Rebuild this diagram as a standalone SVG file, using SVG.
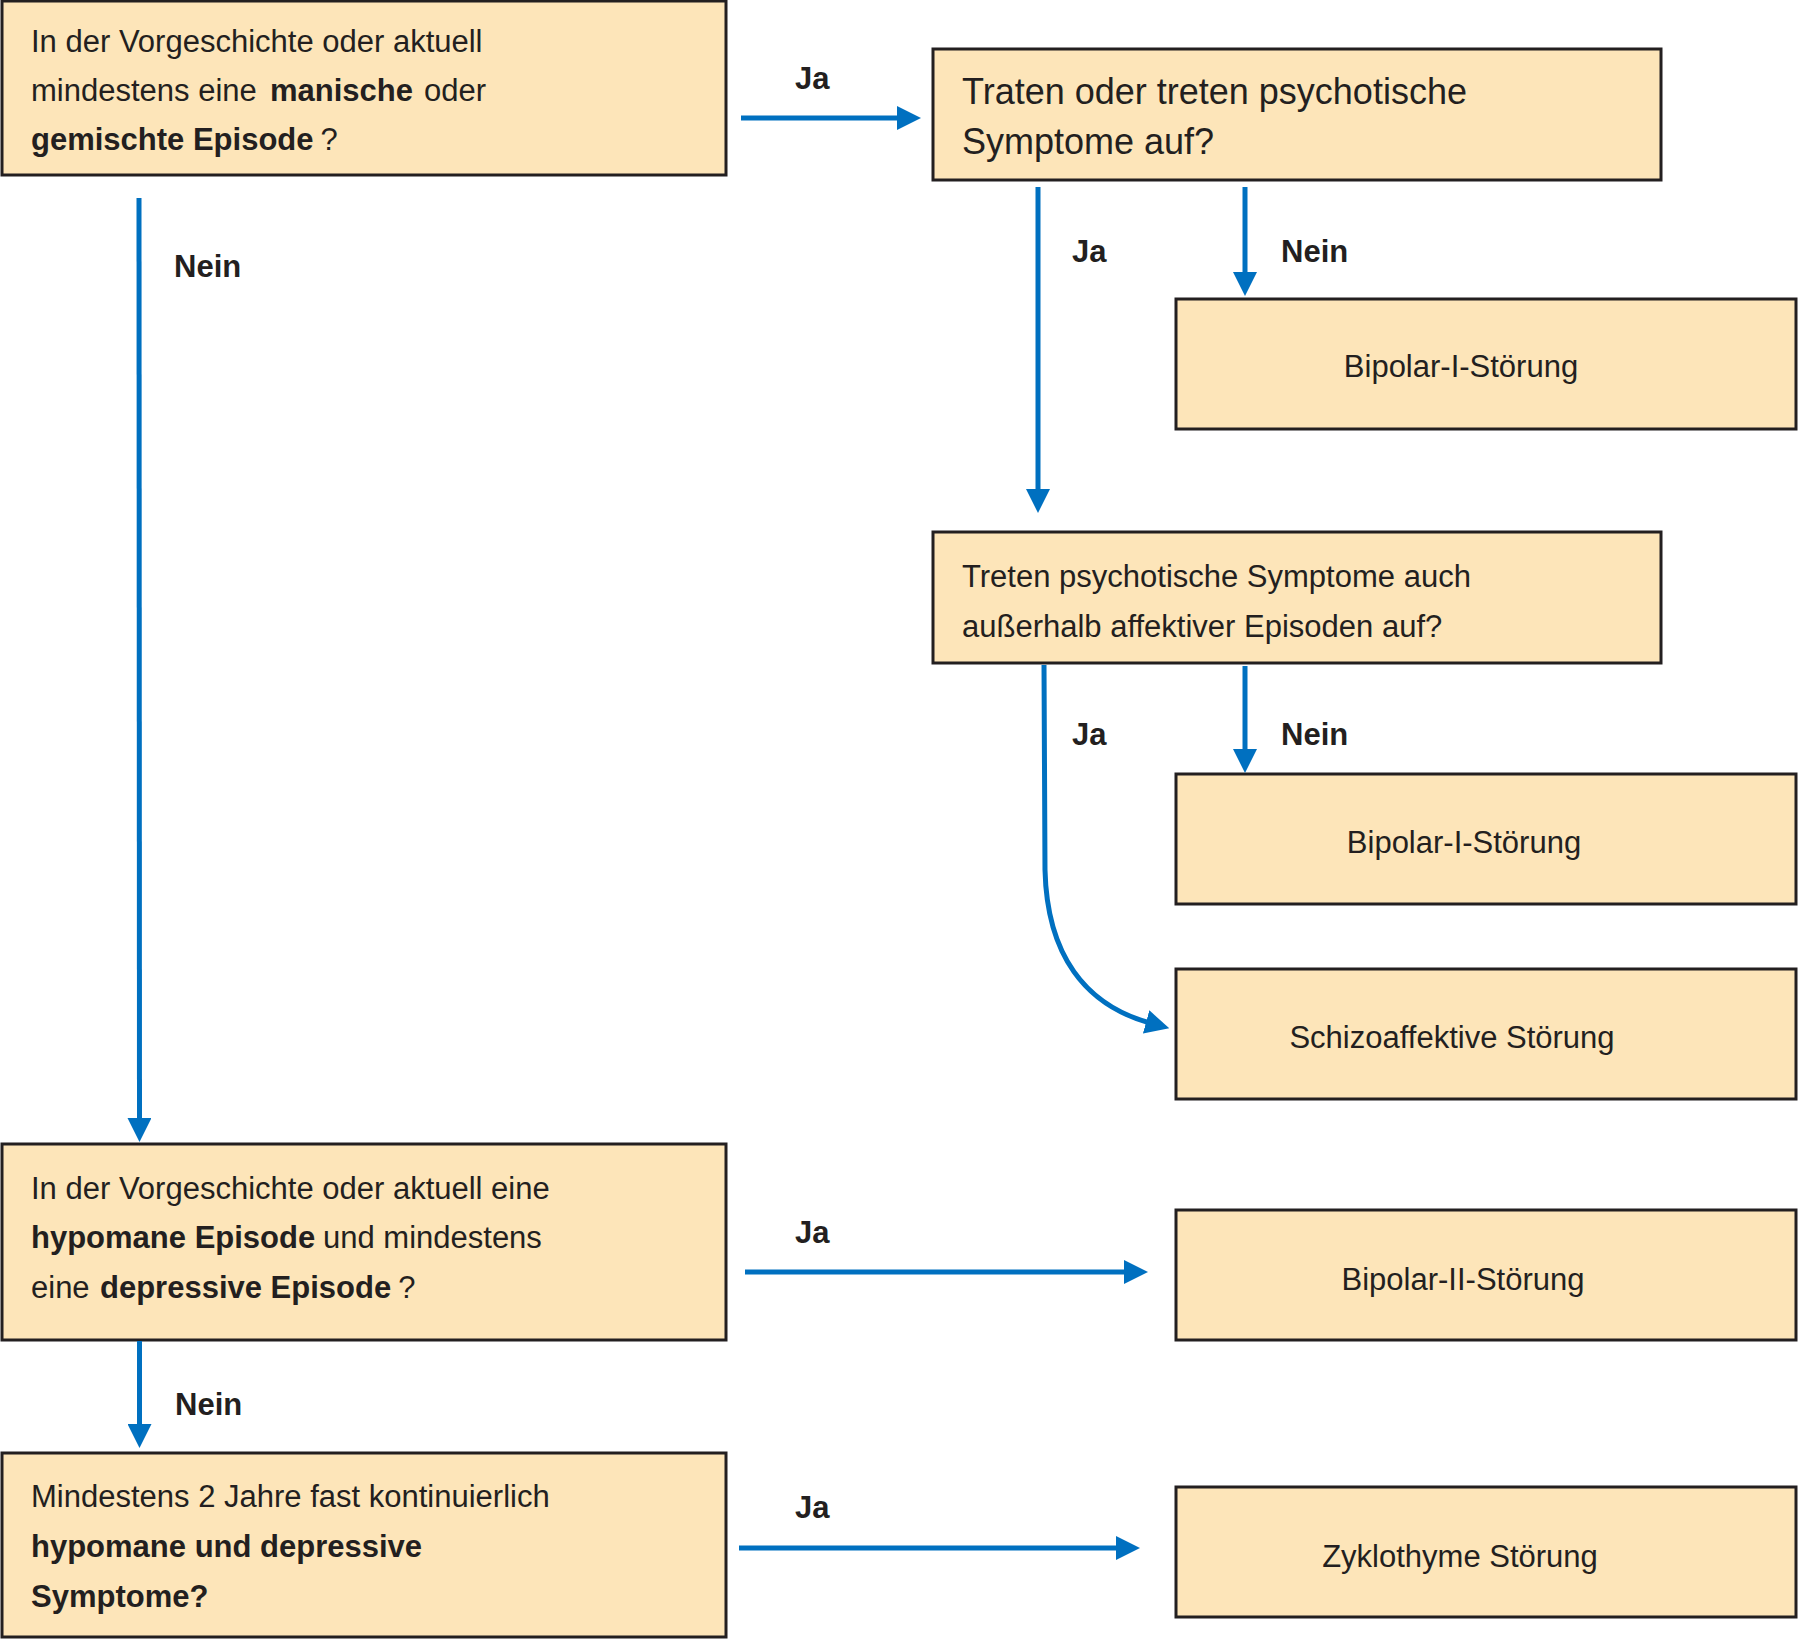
<svg xmlns="http://www.w3.org/2000/svg" width="1798" height="1639" viewBox="0 0 1798 1639">
<style>
.box{fill:#fde5b9;stroke:#231f20;stroke-width:3}
text{font-family:"Liberation Sans",Arial,sans-serif;fill:#231f20;font-size:31px}
.b{font-weight:bold}
.big{font-size:36px}
.lbl{font-weight:bold;font-size:31px}
.c{text-anchor:middle}
.con{fill:none;stroke:#0070c0;stroke-width:5;marker-end:url(#ah)}
</style>
<defs>
<marker id="ah" viewBox="0 0 24 24" refX="4" refY="12" markerWidth="24" markerHeight="24" markerUnits="userSpaceOnUse" orient="auto">
<path d="M0,0 L24,12 L0,24 z" fill="#0070c0"/>
</marker>
</defs>
<rect width="1798" height="1639" fill="#fff"/>
<g id="n1">
<rect class="box" x="2" y="1" width="724" height="174"/>
<text x="31" y="52">In der Vorgeschichte oder aktuell</text>
<text y="101"><tspan x="31">mindestens eine</tspan><tspan class="b" x="270">manische</tspan><tspan x="424">oder</tspan></text>
<text y="150"><tspan class="b" x="31">gemischte Episode</tspan><tspan dx="7">?</tspan></text>
</g>
<g id="n2">
<rect class="box" x="933" y="49" width="728" height="131"/>
<text class="big" x="962" y="104">Traten oder treten psychotische</text>
<text class="big" x="962" y="154">Symptome auf?</text>
</g>
<g id="n3">
<rect class="box" x="1176" y="299" width="620" height="130"/>
<text class="c" x="1461" y="377">Bipolar-I-Störung</text>
</g>
<g id="n4">
<rect class="box" x="933" y="532" width="728" height="131"/>
<text x="962" y="587">Treten psychotische Symptome auch</text>
<text x="962" y="637">außerhalb affektiver Episoden auf?</text>
</g>
<g id="n5">
<rect class="box" x="1176" y="774" width="620" height="130"/>
<text class="c" x="1464" y="853">Bipolar-I-Störung</text>
</g>
<g id="n6">
<rect class="box" x="1176" y="969" width="620" height="130"/>
<text class="c" x="1452" y="1048">Schizoaffektive Störung</text>
</g>
<g id="n7">
<rect class="box" x="2" y="1144" width="724" height="196"/>
<text x="31" y="1199">In der Vorgeschichte oder aktuell eine</text>
<text y="1248"><tspan class="b" x="31">hypomane Episode</tspan><tspan x="323">und mindestens</tspan></text>
<text y="1298"><tspan x="31">eine</tspan><tspan class="b" x="100">depressive Episode</tspan><tspan dx="7">?</tspan></text>
</g>
<g id="n8">
<rect class="box" x="1176" y="1210" width="620" height="130"/>
<text class="c" x="1463" y="1290">Bipolar-II-Störung</text>
</g>
<g id="n9">
<rect class="box" x="2" y="1453" width="724" height="184"/>
<text x="31" y="1507">Mindestens 2 Jahre fast kontinuierlich</text>
<text class="b" x="31" y="1557">hypomane und depressive</text>
<text class="b" x="31" y="1607">Symptome?</text>
</g>
<g id="n10">
<rect class="box" x="1176" y="1487" width="620" height="130"/>
<text class="c" x="1460" y="1567">Zyklothyme Störung</text>
</g>
<g id="connectors">
<path class="con" d="M741,118 L901,118"/>
<path class="con" d="M139,198 L139.5,1122"/>
<path class="con" d="M1038,187 L1038,493"/>
<path class="con" d="M1245,187 L1245,276"/>
<path class="con" d="M1044,665 L1045,870 C1047,955 1085,1005 1150,1023"/>
<path class="con" d="M1245,666 L1245,753"/>
<path class="con" d="M745,1272 L1128,1272"/>
<path class="con" d="M139.5,1341 L139.5,1428"/>
<path class="con" d="M739,1548 L1120,1548"/>
</g>
<g id="labels">
<text class="lbl" x="795" y="89">Ja</text>
<text class="lbl" x="174" y="277">Nein</text>
<text class="lbl" x="1072" y="262">Ja</text>
<text class="lbl" x="1281" y="262">Nein</text>
<text class="lbl" x="1072" y="745">Ja</text>
<text class="lbl" x="1281" y="745">Nein</text>
<text class="lbl" x="795" y="1243">Ja</text>
<text class="lbl" x="175" y="1415">Nein</text>
<text class="lbl" x="795" y="1518">Ja</text>
</g>
</svg>
